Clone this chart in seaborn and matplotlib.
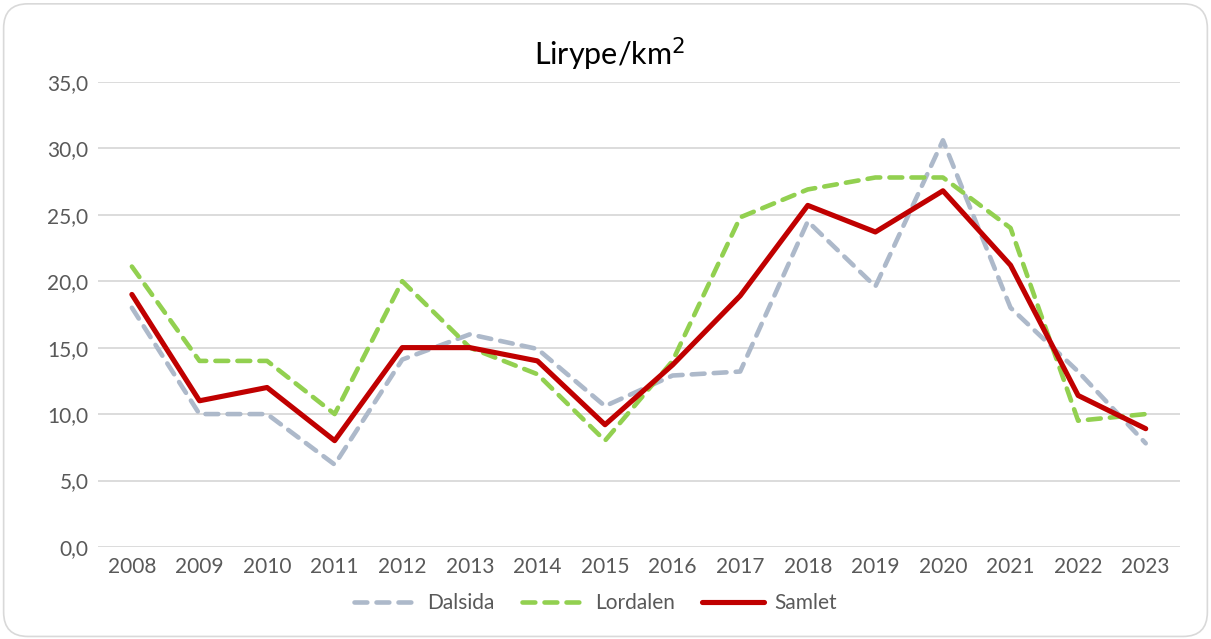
import matplotlib
matplotlib.use("Agg")
import matplotlib.pyplot as plt
from matplotlib.patches import FancyBboxPatch
from matplotlib.ticker import FuncFormatter
import pandas as pd
import seaborn as sns

years = list(range(2008, 2024))
dalsida = [18.0, 10.0, 10.0, 6.2, 14.1, 16.0, 14.9, 10.6, 12.9, 13.2, 24.5, 19.6, 30.6, 18.0, 13.2, 7.8]
lordalen = [21.1, 14.0, 14.0, 10.0, 20.0, 15.0, 13.0, 8.0, 14.0, 24.8, 26.9, 27.8, 27.8, 24.0, 9.5, 10.0]
samlet = [19.0, 11.0, 12.0, 8.0, 15.0, 15.0, 14.0, 9.2, 13.7, 18.9, 25.7, 23.7, 26.8, 21.2, 11.4, 8.9]
series_names = ["Dalsida", "Lordalen", "Samlet"]

df = pd.DataFrame({
    "year": years * 3,
    "value": dalsida + lordalen + samlet,
    "serie": [n for n in series_names for _ in years],
})

sns.set_theme(style="white")
plt.rcParams["font.family"] = ["Lato", "DejaVu Sans"]

palette = {"Dalsida": "#ADB9CA", "Lordalen": "#92D050", "Samlet": "#C00000"}
dashes = {"Dalsida": (2.8, 2.0), "Lordalen": (2.8, 2.0), "Samlet": ""}

fig = plt.figure(figsize=(12.11, 6.39), dpi=100)
ax = fig.add_axes([0.081, 0.144, 0.893, 0.728])

sns.lineplot(data=df, x="year", y="value", hue="serie", style="serie",
             hue_order=series_names, style_order=series_names,
             palette=palette, dashes=dashes, linewidth=3.3,
             dash_capstyle="round", solid_capstyle="round",
             legend=False, ax=ax)
# the solid line is drawn a bit heavier in the original
ax.get_lines()[2].set_linewidth(3.7)

ax.set_xlim(2007.5, 2023.5)
ax.set_ylim(0, 35)
ax.set_xticks(years)
ax.set_yticks(range(0, 36, 5))
ax.yaxis.set_major_formatter(FuncFormatter(lambda v, p: f"{v:.1f}".replace(".", ",")))
ax.grid(axis="y", color="#d9d9d9", linewidth=1.3)
ax.set_axisbelow(True)
for s in ax.spines.values():
    s.set_visible(False)
ax.tick_params(axis="both", length=0, labelsize=15, labelcolor="#595959")
ax.tick_params(axis="y", pad=7)
ax.tick_params(axis="x", pad=7)
ax.set_xlabel("")
ax.set_ylabel("")

ax.legend(handles=ax.get_lines()[:3], labels=series_names, loc="center",
          bbox_to_anchor=(0.492, 0.056), bbox_transform=fig.transFigure,
          ncol=3, frameon=False, fontsize=15, handlelength=3.0,
          handletextpad=0.5, columnspacing=1.3, labelcolor="#595959",
          borderpad=0.2)

fig.text(0.503, 0.915, "Lirype/km$^2$", ha="center", va="center", fontsize=22, color="black")

border = FancyBboxPatch((0.003, 0.004), 0.994, 0.99, boxstyle="round,pad=0,rounding_size=0.02",
                        transform=fig.transFigure, facecolor="none", edgecolor="#d9d9d9",
                        linewidth=1.2, mutation_aspect=1.9)
fig.patches.append(border)

fig.savefig("out.png", dpi=100)
